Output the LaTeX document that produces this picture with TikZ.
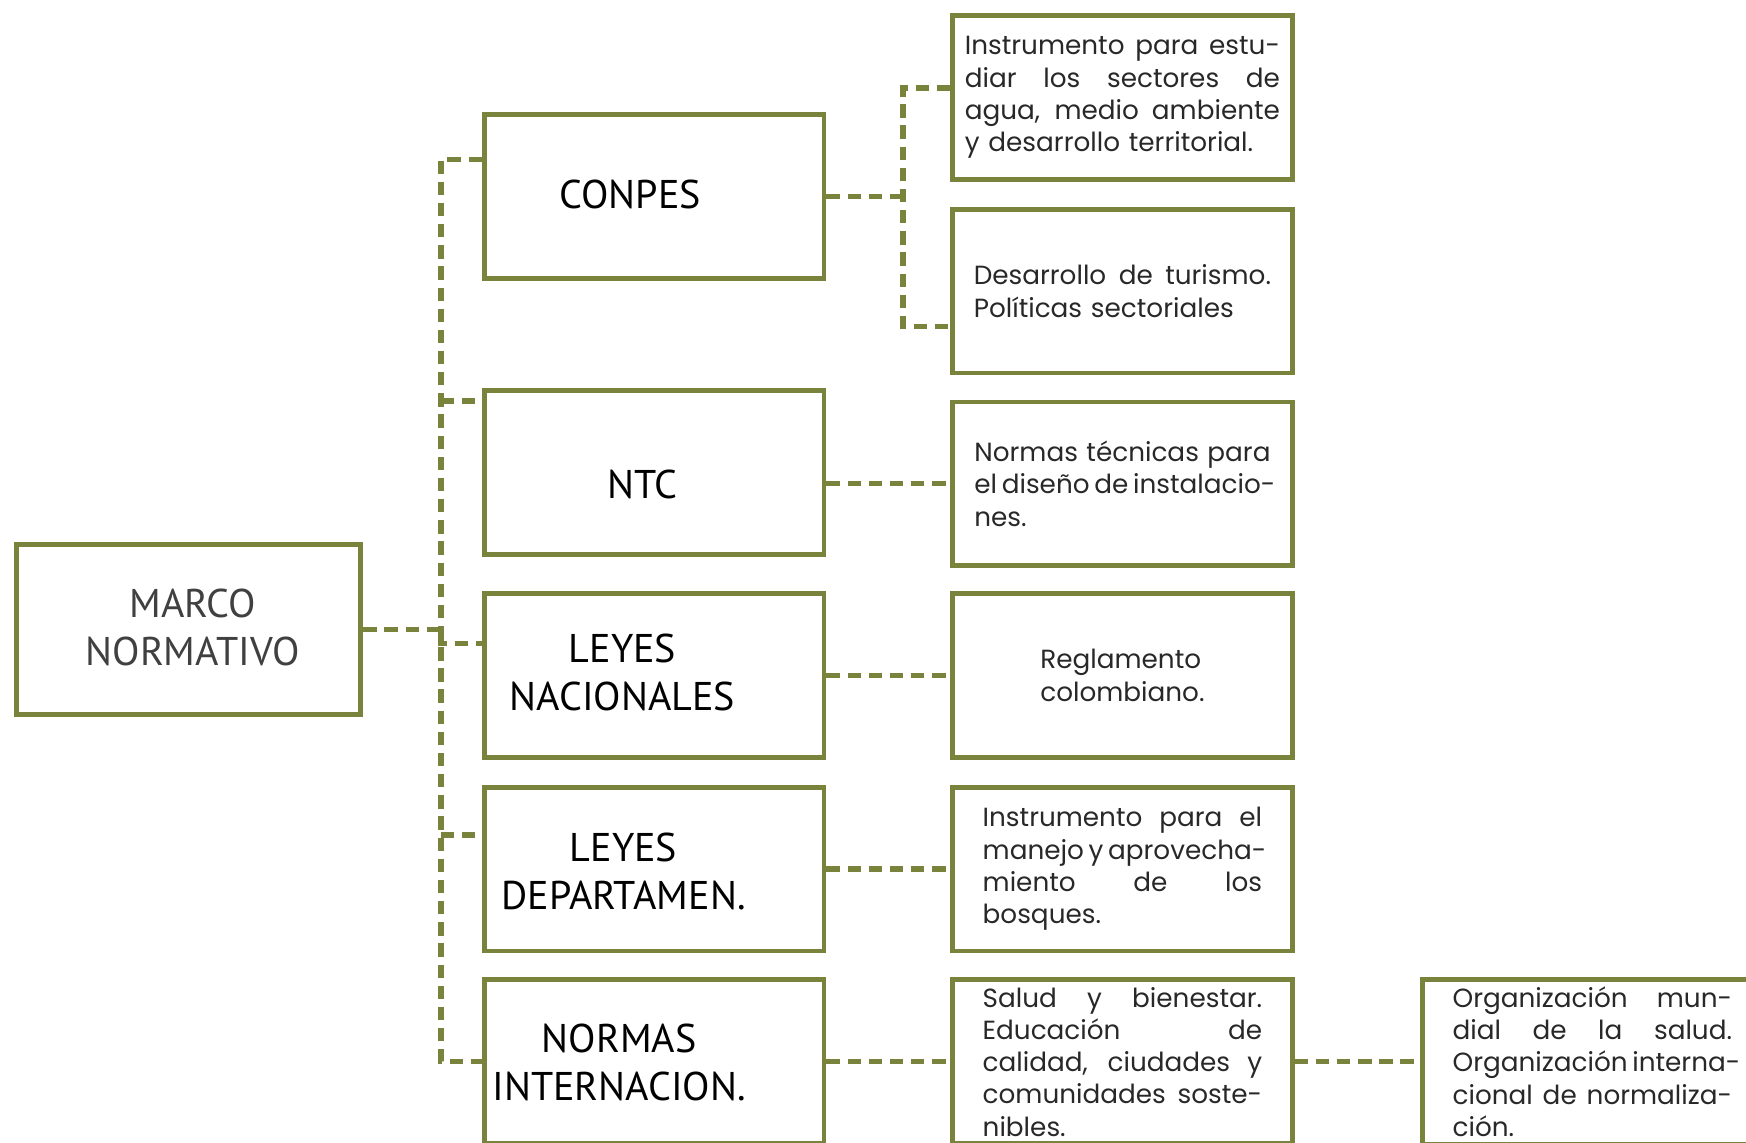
\documentclass[tikz,border=0pt]{standalone}
\usepackage{fontspec}
\setmainfont{Poppins}
\newfontfamily\headfont{PT Sans}
\usetikzlibrary{positioning}
\definecolor{mossgreen}{RGB}{122,131,60}
\definecolor{headgray}{RGB}{64,64,64}
\definecolor{bodygray}{RGB}{40,40,40}
\newcommand{\jline}[1]{\makebox[\jw][s]{\spaceskip=0pt\relax\xspaceskip=0pt\relax #1}\\}
\begin{document}
\begin{tikzpicture}[x=0.5pt,y=-0.5pt,
    hbox/.style={draw=mossgreen,line width=2.2pt,minimum width=152.5pt,minimum height=73.5pt},
    htext/.style={font=\headfont\fontsize{18}{21.5}\selectfont,align=center},
    tbox/.style={hbox,font=\fontsize{11.8}{14.5}\selectfont,text=bodygray,align=left},
    twidth/.style={text width=#1,execute at begin node={\def\jw{#1}}},
    link/.style={draw=mossgreen,line width=2.4pt,dash pattern=on 6pt off 3.5pt}]
    \useasboundingbox (0,0) rectangle (1568,1026);
    %% Root
    \node[hbox,minimum width=154.5pt,minimum height=76.5pt] (marco) at (169.5,565.5) {};
    \node[htext,text=headgray] (marco-t) at (173,563.5) {MARCO\\NORMATIVO};
    %% Second level
    \node[hbox] (conpes) at (587.5,176.5) {};
    \node[hbox] (ntc) at (587.5,424.5) {};
    \node[hbox] (leyn) at (587.5,606.5) {};
    \node[hbox] (leyd) at (587.5,780.5) {};
    \node[hbox] (norm) at (587.5,953.5) {};
    \node[htext] (conpes-t) at (566,175) {CONPES};
    \node[htext] (ntc-t) at (577,435) {NTC};
    \node[htext] (leyn-t) at (559,604) {LEYES\\NACIONALES};
    \node[htext] (leyd-t) at (560,783) {LEYES\\DEPARTAMEN.};
    \node[htext] (norm-t) at (556,954) {NORMAS\\INTERNACION.};
    %% Descriptions
    \node[tbox,twidth=141.5pt] (c1) at (1008,87.5)
        {\jline{Instrumento para estu-}\jline{diar los sectores de}\jline{agua, medio ambiente}y desarrollo territorial.};
    \node[tbox,twidth=133.5pt] (c2) at (1008,261.5)
        {\jline{Desarrollo de turismo.}Políticas sectoriales};
    \node[tbox,twidth=133pt] (c3) at (1008,434.5)
        {\jline{Normas técnicas para}\jline{el diseño de instalacio-}nes.};
    \node[tbox] (c4) at (1008,606.5) {Reglamento\\colombiano.};
    \node[tbox,twidth=125.5pt] (c5) at (1008,780.5)
        {\jline{Instrumento para el}\jline{manejo y aprovecha-}\jline{miento de los}bosques.};
    \node[tbox,twidth=125.5pt] (c6) at (1008,953.5)
        {\jline{Salud y bienestar.}\jline{Educación de}\jline{calidad, ciudades y}\jline{comunidades soste-}nibles.};
    \node[tbox,twidth=125.5pt] (c7) at (1430,953.5)
        {\jline{Organización mun-}\jline{dial de la salud.}\jline{Organización interna-}\jline{cional de normaliza-}ción.};
    %% Connectors
    \coordinate (bus) at (396,0);
    \coordinate (cbus) at (811,0);
    \coordinate (conpes-in) at ([yshift=16.75pt]conpes.west);
    \coordinate (ntc-in) at ([yshift=32.25pt]ntc.west);
    \coordinate (leyn-in) at ([yshift=14.25pt]leyn.west);
    \coordinate (leyd-in) at ([yshift=15.25pt]leyd.west);
    \coordinate (c1-in) at ([yshift=4.25pt]c1.west);
    \coordinate (c2-in) at ([yshift=-15.75pt]c2.west);
    \draw[link] (conpes-in) -| (bus |- norm.west) -- (norm.west);
    \draw[link] (bus |- ntc-in) -- (ntc-in);
    \draw[link] (bus |- leyd-in) -- (leyd-in);
    \draw[link] (marco.east) -- (bus |- marco.east) -- (bus |- leyn-in) -- (leyn-in);
    \draw[link] (conpes.east) -- (cbus |- conpes.east);
    \draw[link] (c1-in) -| (cbus |- c2-in) -- (c2-in);
    \draw[link] (ntc.east |- c3.west) -- (c3.west);
    \draw[link] (leyn.east) -- (c4.west);
    \draw[link] (leyd.east) -- (c5.west);
    \draw[link] (norm.east) -- (c6.west);
    \draw[link] (c6.east) -- (c7.west);
\end{tikzpicture}
\end{document}
